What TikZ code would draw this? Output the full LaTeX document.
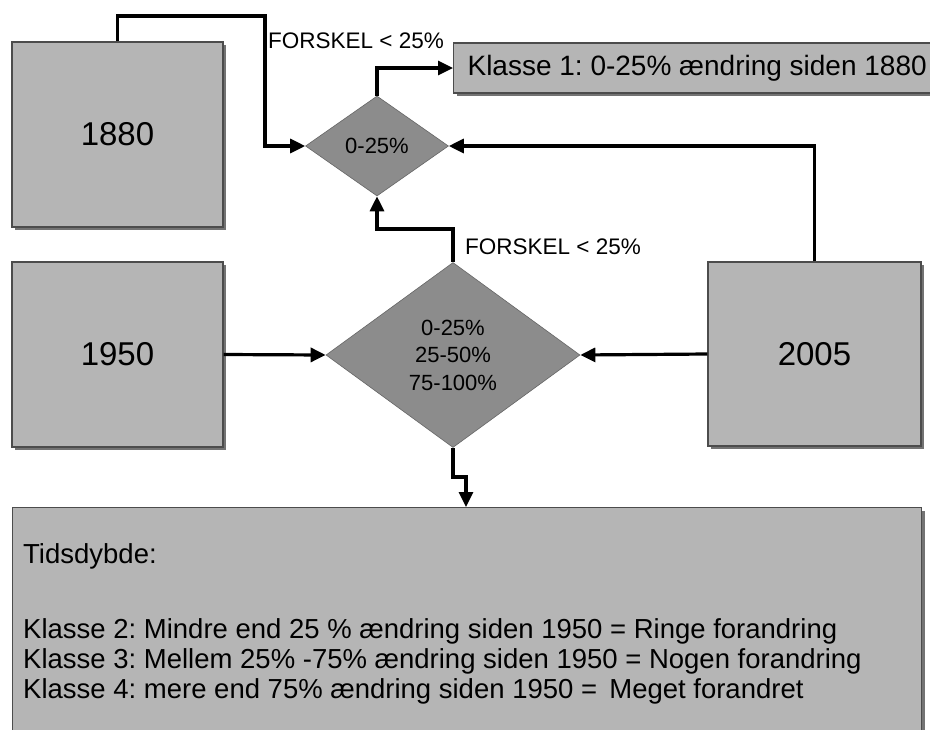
\documentclass[tikz,border=0pt]{standalone}
\usepackage{fontspec}
\setmainfont{Liberation Sans}
\frenchspacing
\usetikzlibrary{shapes.geometric,arrows.meta,shadows,calc}
\begin{document}
\begin{tikzpicture}[x=1pt,y=-1pt,
  box/.style={draw=black!70, line width=1.2pt, fill=black!29, inner sep=0pt,
    general shadow={fill=black!55, shadow xshift=3pt, shadow yshift=-3pt}},
  yearbox/.style={box, minimum width=211pt, minimum height=185pt,
    font=\fontsize{33}{36}\selectfont},
  dia/.style={diamond, draw=black!60, line width=0.6pt, fill=black!45, inner sep=0pt},
  conn/.style={line width=3.2pt, -{Triangle[length=15pt,width=14pt]}},
  lbl/.style={font=\fontsize{22.5}{25}\selectfont, inner sep=0pt, anchor=west},
  bigtxt/.style={font=\fontsize{27.5}{30}\selectfont, inner sep=0pt, anchor=base west}
]
\useasboundingbox (0,0) rectangle (930,729);
\fill[white] (0,0) rectangle (930,729);

% boxes
\node[yearbox] (b1880) at (117.5,134.5) {1880};
\node[yearbox] (b1950) at (117.5,354.5) {1950};
\node[yearbox, minimum width=213pt, minimum height=184pt] (b2005) at (814.5,354) {2005};
\node[box, anchor=west, minimum height=50pt, inner xsep=14pt,
  font=\fontsize{28}{30}\selectfont] (k1) at (453,68) {Klasse 1: 0-25\% ændring siden 1880};
\node[box, anchor=north west, minimum width=909pt, minimum height=260pt] (bot) at (12,507) {};
\node[bigtxt] (tid) at (23,563) {Tidsdybde:};
\node[bigtxt] (k2) at (23,638) {Klasse 2: Mindre end 25 \% ændring siden 1950 = Ringe forandring};
\node[bigtxt] (k3) at (23,668) {Klasse 3: Mellem 25\% -75\% ændring siden 1950 = Nogen forandring};
\node[bigtxt] (k4) at (23,698) {Klasse 4: mere end 75\% ændring siden 1950 =\, Meget forandret};

% diamonds
\node[dia, minimum width=143pt, minimum height=100pt,
  font=\fontsize{22}{24}\selectfont] (d1) at (377,146) {0-25\%};
\node[dia, minimum width=254pt, minimum height=185pt, align=center,
  font=\fontsize{22}{27.5}\selectfont] (d2) at (453,355) {0-25\%\\25-50\%\\75-100\%};

% labels
\node[lbl] (f1) at (268,41) {FORSKEL < 25\%};
\node[lbl] (f2) at (465,247) {FORSKEL < 25\%};

% connector bends
\coordinate (c1) at (265,16);
\coordinate (c4) at (415,229);
\coordinate (c7) at (466,477);

% connectors
\draw[conn] (b1880.north) |- (c1) |- (d1.west);
\draw[conn] (d1.north) |- (k1.west);
\draw[conn] (b2005.north) |- (d1.east);
\draw[conn] (d2.north) |- (c4) -| (d1.south);
\draw[conn] (b1950.east) -- (d2.west);
\draw[conn] (b2005.west) -- (d2.east);
\draw[conn] (d2.south) |- (c7) -- (c7 |- bot.north);
\end{tikzpicture}
\end{document}
